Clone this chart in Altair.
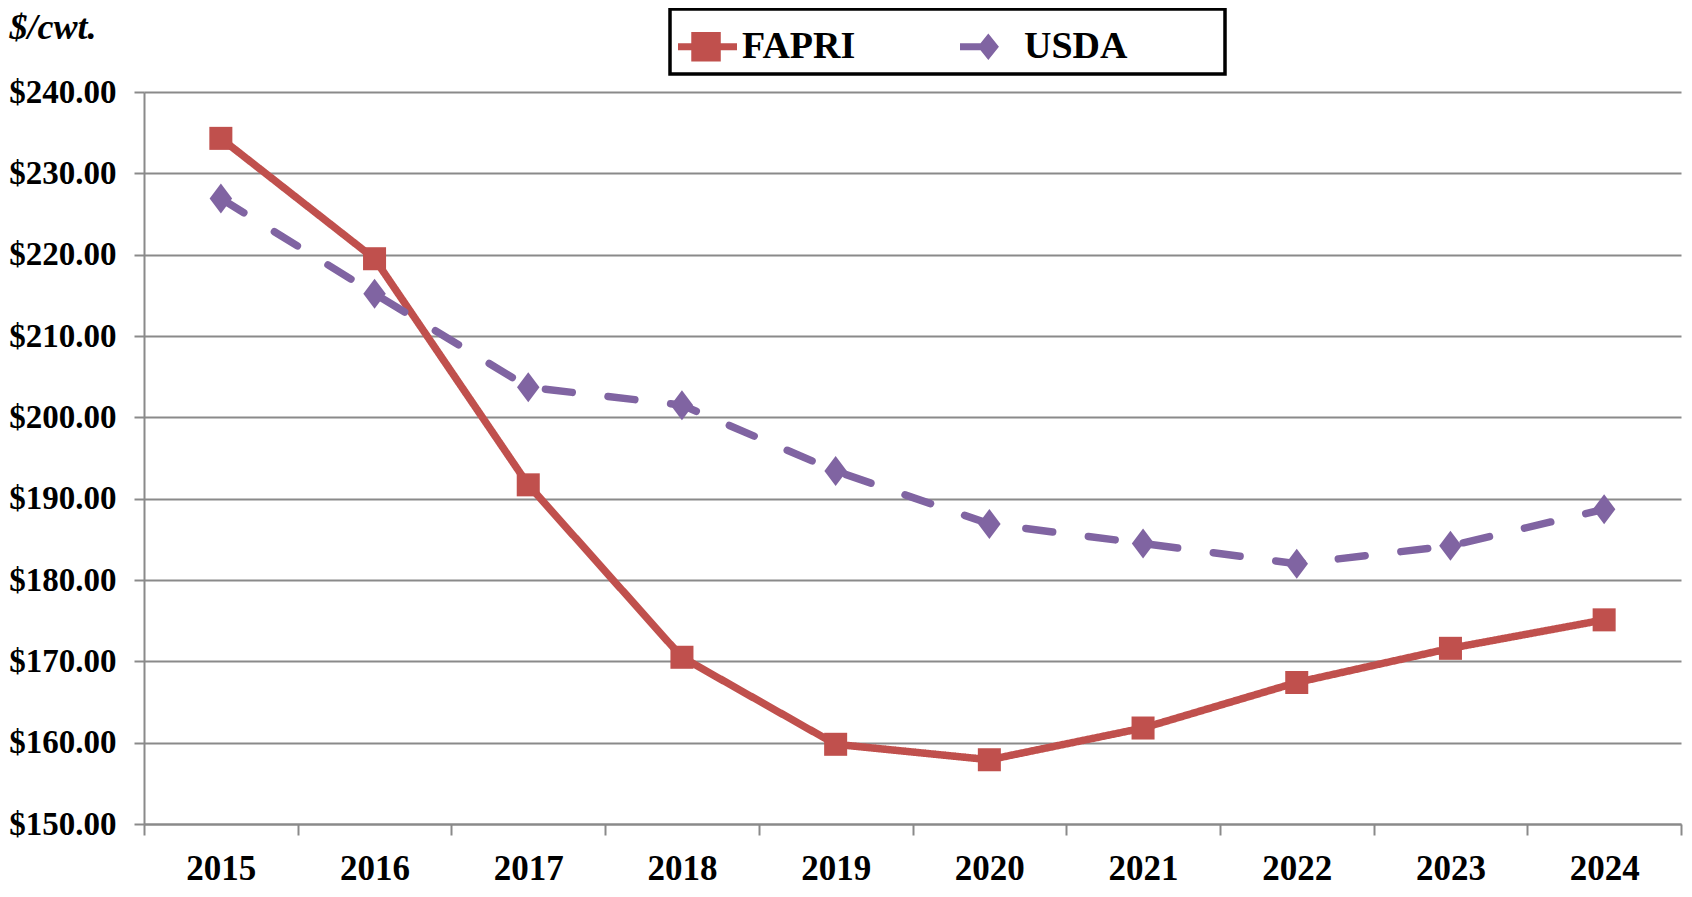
import altair as alt
import pandas as pd

years = ["2015", "2016", "2017", "2018", "2019", "2020", "2021", "2022", "2023", "2024"]
fapri = [234.3, 219.5, 191.7, 170.5, 159.8, 157.9, 161.8, 167.4, 171.6, 175.1]
usda = [226.9, 215.2, 203.7, 201.5, 193.4, 186.9, 184.5, 182.0, 184.2, 188.7]
series = ["FAPRI", "USDA"]
colors = ["#C0504D", "#8064A2"]
y_ticks = [150, 160, 170, 180, 190, 200, 210, 220, 230, 240]

df = pd.DataFrame({
    "year": years + years,
    "value": fapri + usda,
    "series": [series[0]] * len(years) + [series[1]] * len(years),
})

FONT = "Liberation Serif"
GRID = "#8a8a8a"
diamond_path = "M0,-1L0.75,0L0,1L-0.75,0Z"

# legend glyphs: line + marker (a zero-area segment widens the legend box on the right)
leg_fapri = "M-1,-0.12H1V0.12H-1ZM-0.55,-0.5H0.45V0.5H-0.55Z"
leg_usda = "M7.68,0L7.67,0ZM-1,-0.12H-0.04V0.12H-1ZM-0.04,-0.45L0.32,0L-0.04,0.45L-0.4,0Z"

x_enc = alt.X(
    "year:O",
    sort=years,
    scale=alt.Scale(type="band", paddingInner=0, paddingOuter=0),
    axis=alt.Axis(
        title=None, tickBand="extent", labelAngle=0, grid=False,
        labelFont=FONT, labelFontSize=35, labelFontWeight="bold", labelColor="black",
        tickSize=11, tickColor=GRID, tickWidth=2,
        domainColor=GRID, domainWidth=2, labelPadding=16,
    ),
)
y_enc = alt.Y(
    "value:Q",
    scale=alt.Scale(domain=[150, 240], nice=False, zero=False),
    axis=alt.Axis(
        values=y_ticks, format="$.2f", grid=True, gridColor=GRID, gridWidth=2,
        tickSize=10, tickColor=GRID, tickWidth=2, domainColor=GRID, domainWidth=2,
        labelFont=FONT, labelFontSize=33, labelFontWeight="bold", labelColor="black",
        labelPadding=18,
        title="$/cwt.", titleAngle=0, titleX=-135, titleY=-54, titleAlign="left",
        titleBaseline="alphabetic", titleFont=FONT, titleFontSize=36,
        titleFontStyle="italic", titleFontWeight="bold", titleColor="black",
    ),
)

legend = alt.Legend(
    title=None, orient="none", legendX=526, legendY=-83, direction="horizontal",
    labelFont=FONT, labelFontSize=38, labelFontWeight="bold", labelColor="black",
    symbolSize=3481, symbolStrokeWidth=0, labelOffset=5, columnPadding=104,
    padding=8, strokeColor="black", fillColor="white", symbolOpacity=1,
)

color_enc = alt.Color("series:N", scale=alt.Scale(domain=series, range=colors), legend=legend)

base = alt.Chart(df)

legend_layer = base.transform_filter("datum.value < 0").mark_point(
    filled=True, opacity=1, strokeWidth=0
).encode(
    x=x_enc,
    y=y_enc,
    color=color_enc,
    shape=alt.Shape("series:N", scale=alt.Scale(domain=series, range=[leg_fapri, leg_usda]), legend=legend),
)

lines = base.mark_line(strokeWidth=7.5, strokeCap="round").encode(
    x=x_enc,
    y=y_enc,
    color=color_enc,
    strokeDash=alt.StrokeDash("series:N", scale=alt.Scale(domain=series, range=[[1, 0], [27, 36]]), legend=None),
)

pts_fapri = base.transform_filter(alt.datum.series == series[0]).mark_point(
    shape="square", filled=True, opacity=1, strokeWidth=0, size=530, color=colors[0]
).encode(x=x_enc, y=y_enc)

pts_usda = base.transform_filter(alt.datum.series == series[1]).mark_point(
    shape=diamond_path, filled=True, opacity=1, strokeWidth=0, size=900, color=colors[1]
).encode(x=x_enc, y=y_enc)

chart = alt.layer(legend_layer, lines, pts_fapri, pts_usda).properties(
    width=1537, height=732,
    padding={"left": 136, "top": 84, "right": 3, "bottom": 65},
    autosize=alt.AutoSizeParams(type="none"),
).configure_view(stroke=None).configure_legend(strokeWidth=3.5)

chart.save("out.html", embed_options={"renderer": "svg", "actions": False})
